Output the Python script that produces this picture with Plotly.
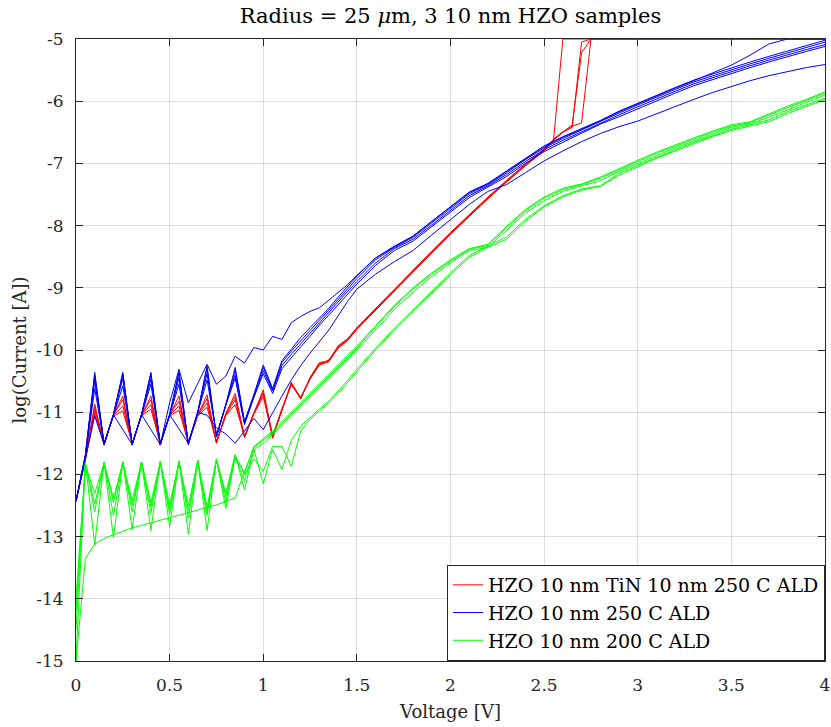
import plotly.graph_objects as go

# ---------------- voltage grids ----------------
V_LOW = [0.00, 0.05, 0.10, 0.15, 0.20, 0.25, 0.30, 0.35, 0.40, 0.45, 0.50,
         0.55, 0.60, 0.65, 0.70, 0.75, 0.80, 0.85, 0.90, 0.95, 1.00, 1.05,
         1.10, 1.15, 1.20, 1.25, 1.30, 1.35, 1.40, 1.45, 1.50]
V_HIGH = [1.6, 1.7, 1.8, 1.9, 2.0, 2.1, 2.2, 2.3, 2.4, 2.5, 2.6, 2.7, 2.8,
          2.9, 3.0, 3.1, 3.2, 3.3, 3.4, 3.5, 3.6, 3.7, 3.8, 3.9, 4.0]
V_RED_HIGH = [1.6, 1.7, 1.8, 1.9, 2.0, 2.1, 2.2, 2.3, 2.4, 2.5, 2.55, 2.6,
              2.65, 2.7, 2.75, 4.0]

# ---------------- red: HZO 10 nm TiN 10 nm 250 C ALD ----------------
R1_LOW = [-12.43, -11.75, -10.87, -11.52, -11.05, -10.74, -11.52, -11.05, -10.74, -11.52, -11.05,
          -10.74, -11.50, -11.05, -10.72, -11.49, -11.02, -10.70, -11.39, -11.00, -10.64, -11.39,
          -10.95, -10.53, -10.77, -10.45, -10.22, -10.17, -9.95, -9.83, -9.65]
R2_LOW = [-12.43, -11.76, -10.96, -11.50, -11.05, -10.90, -11.50, -11.05, -10.88, -11.50, -11.05,
          -10.90, -11.48, -11.05, -10.85, -11.47, -11.05, -10.80, -11.40, -11.02, -10.70, -11.37,
          -10.96, -10.55, -10.76, -10.47, -10.23, -10.16, -9.96, -9.84, -9.67]
R3_LOW = [-12.43, -11.74, -10.92, -11.53, -11.04, -10.80, -11.53, -11.04, -10.80, -11.53, -11.04,
          -10.82, -11.51, -11.04, -10.78, -11.50, -11.03, -10.75, -11.41, -11.01, -10.68, -11.42,
          -10.97, -10.52, -10.79, -10.44, -10.20, -10.18, -9.93, -9.82, -9.64]
R4_LOW = [-12.43, -11.77, -11.02, -11.50, -11.06, -10.98, -11.50, -11.06, -10.95, -11.50, -11.06,
          -10.97, -11.49, -11.06, -10.92, -11.48, -11.05, -10.88, -11.38, -11.03, -10.75, -11.40,
          -10.94, -10.56, -10.78, -10.46, -10.24, -10.19, -9.97, -9.85, -9.66]
R1_HIGH = [-9.34, -9.03, -8.72, -8.42, -8.12, -7.83, -7.55, -7.28, -7.02, -6.78, -6.64, -5.00, -5.00, -5.00, -5.00, -5.00]
R2_HIGH = [-9.36, -9.05, -8.74, -8.44, -8.14, -7.85, -7.57, -7.30, -7.04, -6.80, -6.62, -6.50, -6.42, -5.05, -5.00, -5.00]
R3_HIGH = [-9.33, -9.02, -8.71, -8.41, -8.11, -7.82, -7.54, -7.27, -7.01, -6.77, -6.61, -6.49, -6.40, -6.35, -5.00, -5.00]
R4_HIGH = [-9.35, -9.04, -8.73, -8.43, -8.13, -7.84, -7.56, -7.29, -7.03, -6.79, -6.63, -6.50, -6.38, -5.22, -5.00, -5.00]

# ---------------- blue: HZO 10 nm 250 C ALD ----------------
B1_LOW = [-12.43, -11.70, -10.36, -11.52, -11.04, -10.36, -11.52, -11.04, -10.36, -11.52, -11.04,
          -10.34, -11.52, -11.00, -10.25, -11.40, -10.88, -10.28, -11.15, -10.72, -10.24, -10.62,
          -10.17, -9.98, -9.80, -9.64, -9.48, -9.33, -9.15, -8.98, -8.81]
B2_LOW = [-12.43, -11.70, -10.42, -11.52, -11.04, -10.40, -11.52, -11.04, -10.40, -11.52, -11.04,
          -10.38, -11.52, -11.00, -10.30, -11.40, -10.88, -10.32, -11.17, -10.73, -10.28, -10.64,
          -10.20, -10.02, -9.85, -9.68, -9.52, -9.36, -9.19, -9.02, -8.85]
B3_LOW = [-12.43, -11.71, -10.50, -11.51, -11.04, -10.46, -11.51, -11.04, -10.47, -11.51, -11.04,
          -10.45, -11.50, -11.00, -10.38, -11.38, -10.88, -10.40, -11.18, -10.74, -10.33, -10.66,
          -10.25, -10.07, -9.90, -9.73, -9.56, -9.40, -9.23, -9.06, -8.90]
B4_LOW = [-12.43, -11.72, -10.62, -11.50, -11.05, -10.58, -11.50, -11.05, -10.55, -11.50, -11.05,
          -10.55, -11.49, -11.01, -10.48, -11.36, -10.89, -10.45, -11.20, -10.76, -10.38, -10.70,
          -10.30, -10.12, -9.95, -9.78, -9.60, -9.44, -9.27, -9.10, -8.94]
B5_LOW = [-12.43, -11.72, -11.06, -11.52, -11.04, -11.28, -11.52, -11.04, -11.28, -11.52, -11.04,
          -11.28, -11.50, -11.00, -11.05, -11.25, -11.35, -11.50, -11.30, -11.10, -11.28, -11.00,
          -10.74, -10.48, -10.25, -10.05, -9.87, -9.68, -9.45, -9.22, -9.02]
B6_LOW = [-12.43, -11.68, -10.40, -11.52, -11.04, -10.38, -11.52, -11.04, -10.38, -11.52, -10.85,
          -10.31, -10.85, -10.53, -10.23, -10.55, -10.42, -10.10, -10.21, -9.96, -10.00, -9.78,
          -9.83, -9.56, -9.46, -9.38, -9.32, -9.20, -9.08, -8.95, -8.80]
B1_HIGH = [-8.52, -8.33, -8.17, -7.93, -7.69, -7.46, -7.32, -7.12, -6.91, -6.72, -6.57, -6.44, -6.31,
           -6.16, -6.03, -5.90, -5.78, -5.66, -5.56, -5.46, -5.37, -5.28, -5.19, -5.10, -5.02]
B2_HIGH = [-8.55, -8.35, -8.19, -7.96, -7.72, -7.49, -7.34, -7.15, -6.94, -6.75, -6.60, -6.46, -6.33,
           -6.19, -6.06, -5.93, -5.81, -5.69, -5.59, -5.49, -5.40, -5.31, -5.22, -5.13, -5.05]
B3_HIGH = [-8.60, -8.37, -8.22, -7.99, -7.75, -7.52, -7.36, -7.18, -6.97, -6.78, -6.63, -6.49, -6.35,
           -6.22, -6.09, -5.96, -5.84, -5.72, -5.62, -5.52, -5.43, -5.34, -5.25, -5.17, -5.09]
B4_HIGH = [-8.64, -8.40, -8.25, -8.02, -7.78, -7.55, -7.38, -7.21, -7.00, -6.81, -6.66, -6.52, -6.37,
           -6.25, -6.12, -5.99, -5.87, -5.75, -5.65, -5.55, -5.46, -5.37, -5.28, -5.20, -5.12]
B5_HIGH = [-8.78, -8.58, -8.40, -8.15, -7.90, -7.66, -7.45, -7.34, -7.15, -6.96, -6.80, -6.65, -6.52,
           -6.41, -6.32, -6.20, -6.08, -5.97, -5.86, -5.76, -5.67, -5.59, -5.52, -5.46, -5.41]
B6_HIGH = [-8.52, -8.34, -8.17, -7.93, -7.70, -7.47, -7.33, -7.13, -6.92, -6.73, -6.58, -6.45, -6.32,
           -6.17, -6.04, -5.91, -5.79, -5.67, -5.55, -5.42, -5.26, -5.08, -5.00, -5.00, -5.00]

# ---------------- green: HZO 10 nm 200 C ALD ----------------
G1_LOW = [-15.00, -13.35, -13.12, -13.03, -12.97, -12.91, -12.86, -12.82, -12.78, -12.74, -12.70,
          -12.66, -12.62, -12.58, -12.54, -12.49, -12.43, -12.38, -11.95, -11.57, -11.45, -11.33,
          -11.18, -11.02, -10.87, -10.72, -10.57, -10.42, -10.27, -10.12, -9.97]
G2_LOW = [-15.00, -11.80, -13.13, -11.80, -13.02, -11.80, -12.88, -11.80, -12.90, -11.79, -12.84,
          -11.78, -12.96, -11.77, -12.90, -11.75, -12.55, -11.70, -11.98, -11.55, -11.43, -11.30,
          -11.15, -11.00, -10.84, -10.69, -10.54, -10.39, -10.24, -10.09, -9.94]
G3_LOW = [-14.50, -11.82, -12.60, -11.80, -12.66, -11.80, -12.60, -11.80, -12.62, -11.80, -12.64,
          -11.79, -12.70, -11.78, -12.66, -11.76, -12.45, -11.72, -12.10, -11.60, -11.50, -11.36,
          -11.20, -11.05, -10.90, -10.75, -10.60, -10.45, -10.30, -10.15, -10.00]
G4_LOW = [-14.20, -11.82, -12.48, -11.82, -12.45, -11.80, -12.50, -11.80, -12.52, -11.80, -12.48,
          -11.80, -12.58, -11.78, -12.52, -11.76, -12.30, -11.68, -12.25, -11.60, -12.15, -11.60,
          -11.92, -11.45, -11.22, -11.08, -10.95, -10.82, -10.66, -10.49, -10.31]
G5_LOW = [-14.00, -11.85, -12.30, -11.82, -12.38, -11.82, -12.42, -11.80, -12.45, -11.80, -12.55,
          -11.80, -12.50, -11.79, -12.60, -11.77, -12.35, -11.70, -12.00, -11.75, -11.95, -11.55,
          -11.55, -11.87, -11.30, -11.12, -10.98, -10.85, -10.70, -10.53, -10.35]
G1_HIGH = [-9.63, -9.30, -9.02, -8.78, -8.57, -8.38, -8.32, -8.03, -7.76, -7.56, -7.42, -7.34, -7.24,
           -7.10, -6.97, -6.84, -6.72, -6.61, -6.50, -6.40, -6.34, -6.22, -6.10, -5.99, -5.87]
G2_HIGH = [-9.61, -9.28, -9.00, -8.76, -8.55, -8.37, -8.30, -8.01, -7.74, -7.54, -7.40, -7.33, -7.22,
           -7.08, -6.95, -6.82, -6.70, -6.59, -6.48, -6.38, -6.33, -6.20, -6.08, -5.97, -5.85]
G3_HIGH = [-9.68, -9.35, -9.07, -8.82, -8.60, -8.40, -8.35, -8.07, -7.80, -7.60, -7.45, -7.36, -7.28,
           -7.13, -7.00, -6.87, -6.75, -6.64, -6.53, -6.42, -6.36, -6.26, -6.14, -6.02, -5.90]
G4_HIGH = [-9.97, -9.65, -9.35, -9.05, -8.76, -8.48, -8.33, -8.18, -7.90, -7.68, -7.52, -7.41, -7.36,
           -7.16, -7.03, -6.90, -6.78, -6.66, -6.55, -6.45, -6.38, -6.30, -6.17, -6.06, -5.95]
G5_HIGH = [-10.00, -9.68, -9.38, -9.08, -8.79, -8.51, -8.35, -8.22, -7.93, -7.70, -7.54, -7.43, -7.37,
           -7.19, -7.05, -6.92, -6.80, -6.68, -6.57, -6.47, -6.40, -6.33, -6.20, -6.08, -5.97]

X_TICKS = [0, 0.5, 1, 1.5, 2, 2.5, 3, 3.5, 4]
X_TICK_TEXT = ["0", "0.5", "1", "1.5", "2", "2.5", "3", "3.5", "4"]
Y_TICKS = [-15, -14, -13, -12, -11, -10, -9, -8, -7, -6, -5]
Y_TICK_TEXT = ["-15", "-14", "-13", "-12", "-11", "-10", "-9", "-8", "-7", "-6", "-5"]

NAMES = ["HZO 10 nm TiN 10 nm 250 C ALD", "HZO 10 nm 250 C ALD", "HZO 10 nm 200 C ALD"]
COLORS = ["#ff0000", "#0000ff", "#00ff00"]

groups = [
    (V_LOW + V_RED_HIGH, [R1_LOW + R1_HIGH, R2_LOW + R2_HIGH, R3_LOW + R3_HIGH, R4_LOW + R4_HIGH]),
    (V_LOW + V_HIGH, [B1_LOW + B1_HIGH, B2_LOW + B2_HIGH, B3_LOW + B3_HIGH, B4_LOW + B4_HIGH,
                      B5_LOW + B5_HIGH, B6_LOW + B6_HIGH]),
    (V_LOW + V_HIGH, [G1_LOW + G1_HIGH, G2_LOW + G2_HIGH, G3_LOW + G3_HIGH, G4_LOW + G4_HIGH,
                      G5_LOW + G5_HIGH]),
]

fig = go.Figure()
for gi, (xv, curves) in enumerate(groups):
    for ci, yv in enumerate(curves):
        assert len(xv) == len(yv), (gi, ci, len(xv), len(yv))
        fig.add_trace(go.Scatter(
            x=xv, y=yv, mode="lines",
            line=dict(color=COLORS[gi], width=1),
            name=NAMES[gi], legendgroup=NAMES[gi], showlegend=(ci == 0),
        ))

AX = "#262626"
GRID = "rgba(38,38,38,0.15)"
FONT = "DejaVu Serif"

fig.update_layout(
    width=831, height=727,
    margin=dict(l=76, r=6, t=39, b=66, autoexpand=False),
    paper_bgcolor="white", plot_bgcolor="white",
    font=dict(family=FONT, size=17, color=AX),
    title=dict(text="Radius = 25 <i>μ</i>m, 3 10 nm HZO samples",
               x=0.5, xref="paper", xanchor="center",
               y=1 - 16 / 727, yref="container", yanchor="middle",
               font=dict(family=FONT, size=21, color="black")),
    legend=dict(x=1, y=0, xanchor="right", yanchor="bottom",
                bgcolor="white", bordercolor=AX, borderwidth=1,
                font=dict(family=FONT, size=19, color="black"),
                tracegroupgap=0),
    showlegend=True,
)
fig.update_xaxes(
    range=[0, 4], tickvals=X_TICKS, ticktext=X_TICK_TEXT, automargin=False,
    ticks="inside", ticklen=7, tickcolor=AX, ticklabelstandoff=9,
    showline=True, linecolor=AX, linewidth=1, mirror="ticks",
    showgrid=True, gridcolor=GRID, gridwidth=1, zeroline=False,
    title=dict(text="Voltage [V]", standoff=10, font=dict(family=FONT, size=18, color=AX)),
)
fig.update_yaxes(
    range=[-15, -5], tickvals=Y_TICKS, ticktext=Y_TICK_TEXT, automargin=False,
    ticks="inside", ticklen=7, tickcolor=AX, ticklabelstandoff=8,
    showline=True, linecolor=AX, linewidth=1, mirror="ticks",
    showgrid=True, gridcolor=GRID, gridwidth=1, zeroline=False,
    title=dict(text="log(Current [A])", standoff=4, font=dict(family=FONT, size=18, color=AX)),
)

fig.write_html("out.html")
